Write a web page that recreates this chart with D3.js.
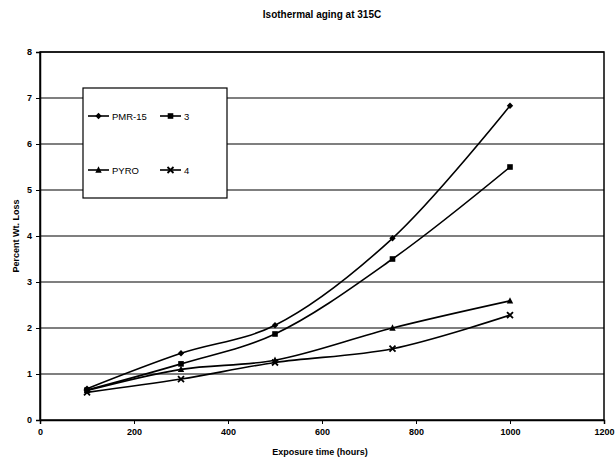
<!DOCTYPE html>
<html>
<head>
<meta charset="utf-8">
<script src="https://cdn.jsdelivr.net/npm/d3@7"></script>
<style>
  body { margin: 0; background: #fff; }
  text { font-family: "Liberation Sans", Arial, sans-serif; fill: #000; }
</style>
</head>
<body>
<script>
var hours = [100, 300, 500, 750, 1000];
var pmr15 = [0.68, 1.45, 2.06, 3.95, 6.83];
var s3 = [0.65, 1.22, 1.87, 3.5, 5.5];
var pyro = [0.64, 1.1, 1.3, 2.0, 2.59];
var s4 = [0.6, 0.89, 1.25, 1.55, 2.28];
var xTicks = [0, 200, 400, 600, 800, 1000, 1200];
var yTicks = [0, 1, 2, 3, 4, 5, 6, 7, 8];

var series = [
  {name: 'PMR-15', values: pmr15, marker: 'diamond'},
  {name: '3', values: s3, marker: 'square'},
  {name: 'PYRO', values: pyro, marker: 'triangle'},
  {name: '4', values: s4, marker: 'x'}
];

var svg = d3.select('body').append('svg')
  .attr('width', 616)
  .attr('height', 465);

var x = d3.scaleLinear().domain([0, 1200]).range([40, 604]);
var y = d3.scaleLinear().domain([0, 8]).range([420, 52]);

// gridlines
svg.selectAll('.grid').data(yTicks.slice(1))
  .enter().append('line')
  .attr('x1', x(0)).attr('x2', x(1200))
  .attr('y1', function(d) {return y(d)})
  .attr('y2', function(d) {return y(d)})
  .attr('stroke', '#000').attr('stroke-width', 1.2);

// plot border
svg.append('rect')
  .attr('x', x(0)).attr('y', y(8))
  .attr('width', x(1200) - x(0)).attr('height', y(0) - y(8))
  .attr('fill', 'none').attr('stroke', '#000').attr('stroke-width', 1.5);

var xAxis = svg.append('g')
  .attr('transform', 'translate(0,' + y(0) + ')')
  .call(d3.axisBottom(x).tickValues(xTicks).tickFormat(d3.format('d')).tickSize(4).tickPadding(5));
var yAxis = svg.append('g')
  .attr('transform', 'translate(' + x(0) + ',0)')
  .call(d3.axisLeft(y).tickValues(yTicks).tickFormat(d3.format('d')).tickSize(4).tickPadding(4));
[xAxis, yAxis].forEach(function(a) {
  a.select('.domain').attr('stroke', '#000').attr('stroke-width', 1.5);
  a.selectAll('text').attr('font-size', 9).attr('font-weight', 'bold')
    .style('font-family', '"Liberation Sans", Arial, sans-serif');
});

var line = d3.line()
  .x(function(d, i) {return x(hours[i])})
  .y(function(d) {return y(d)})
  .curve(d3.curveCatmullRom.alpha(0.5));

function drawMarker(g, type, cx, cy) {
  var s = 3.2;
  if (type == 'diamond') {
    g.append('path').attr('d', 'M' + cx + ',' + (cy - s) + 'L' + (cx + s) + ',' + cy + 'L' + cx + ',' + (cy + s) + 'L' + (cx - s) + ',' + cy + 'Z')
      .attr('fill', '#000');
  } else if (type == 'square') {
    g.append('rect').attr('x', cx - 2.8).attr('y', cy - 2.8).attr('width', 5.6).attr('height', 5.6).attr('fill', '#000');
  } else if (type == 'triangle') {
    g.append('path').attr('d', 'M' + cx + ',' + (cy - s - 0.5) + 'L' + (cx + s) + ',' + (cy + s - 0.5) + 'L' + (cx - s) + ',' + (cy + s - 0.5) + 'Z')
      .attr('fill', '#000');
  } else {
    g.append('path').attr('d', 'M' + (cx - 3) + ',' + (cy - 3) + 'L' + (cx + 3) + ',' + (cy + 3) + 'M' + (cx + 3) + ',' + (cy - 3) + 'L' + (cx - 3) + ',' + (cy + 3))
      .attr('stroke', '#000').attr('stroke-width', 1.8);
  }
}

series.forEach(function(s) {
  svg.append('path')
    .attr('d', line(s.values))
    .attr('fill', 'none').attr('stroke', '#000').attr('stroke-width', 1.6);
  var g = svg.append('g');
  s.values.forEach(function(v, i) {
    drawMarker(g, s.marker, x(hours[i]), y(v));
  });
});

// legend
var lg = svg.append('g');
lg.append('rect').attr('x', 83).attr('y', 88).attr('width', 144).attr('height', 110)
  .attr('fill', '#fff').attr('stroke', '#000').attr('stroke-width', 1.2);
var legPos = [[88, 116], [160, 116], [88, 170], [160, 170]];
series.forEach(function(s, i) {
  var p = legPos[i];
  lg.append('line').attr('x1', p[0]).attr('x2', p[0] + 21).attr('y1', p[1]).attr('y2', p[1])
    .attr('stroke', '#000').attr('stroke-width', 1.6);
  drawMarker(lg, s.marker, p[0] + 10.5, p[1]);
  lg.append('text').attr('x', p[0] + 24).attr('y', p[1] + 3.5)
    .attr('font-size', 9.5).text(s.name);
});

// titles
svg.append('text').attr('x', 322).attr('y', 18).attr('text-anchor', 'middle')
  .attr('font-size', 10).attr('font-weight', 'bold').text('Isothermal aging at 315C');
svg.append('text').attr('x', 320).attr('y', 455).attr('text-anchor', 'middle')
  .attr('font-size', 9).attr('font-weight', 'bold').text('Exposure time (hours)');
svg.append('text').attr('transform', 'translate(19,236) rotate(-90)').attr('text-anchor', 'middle')
  .attr('font-size', 9).attr('font-weight', 'bold').text('Percent Wt. Loss');
</script>
</body>
</html>
